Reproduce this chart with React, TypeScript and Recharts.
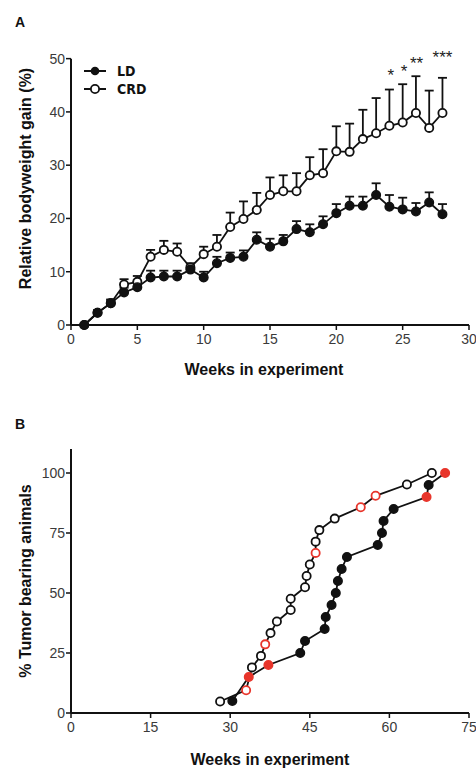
import React from "react";
import { ComposedChart, LineChart, Line, XAxis, YAxis, ErrorBar, Scatter, ReferenceLine, Legend } from "recharts";

// Panel A: relative bodyweight gain (%) by week
const weeks = [1, 2, 3, 4, 5, 6, 7, 8, 9, 10, 11, 12, 13, 14, 15, 16, 17, 18, 19, 20, 21, 22, 23, 24, 25, 26, 27, 28];
const ldGain = [0, 2.3, 4.1, 6.1, 7.1, 8.9, 9.1, 9.1, 10.4, 8.9, 11.6, 12.6, 12.8, 16.0, 14.7, 15.7, 18.0, 17.4, 18.9, 21.0, 22.4, 22.4, 24.4, 22.2, 21.7, 21.3, 23.0, 20.8];
const ldSem = [0, 0.5, 0.7, 0.9, 1.0, 1.3, 1.1, 1.1, 0.8, 1.1, 1.2, 1.0, 1.2, 1.4, 1.5, 1.2, 1.5, 1.5, 1.5, 1.7, 1.7, 1.7, 2.2, 2.2, 2.2, 1.6, 1.9, 1.9];
const crdGain = [0, 2.3, 4.1, 7.6, 8.1, 12.8, 14.1, 13.75, 10.8, 13.3, 14.7, 18.4, 19.9, 21.6, 24.4, 25.1, 25.1, 28.1, 28.5, 32.6, 32.5, 34.9, 36.0, 37.4, 38.0, 39.8, 37.0, 39.8];
const crdSem = [0, 0.4, 0.6, 1.0, 1.1, 1.3, 1.7, 1.55, 0.8, 1.4, 2.2, 2.7, 3.3, 3.2, 3.3, 3.0, 3.4, 3.4, 4.5, 4.7, 5.3, 5.5, 6.6, 6.8, 7.2, 6.9, 7.0, 6.6];
const starWeeks = [24.1, 25.1, 26.05, 28];
const starLevels = [47.6, 48.3, 49.8, 50.9];
const starMarks = ["*", "*", "**", "***"];

// Panel B: % tumor bearing animals
const crdOnsetWeeks = [28.1, 33.0, 34.1, 35.8, 36.6, 37.6, 38.8, 41.4, 41.4, 44.1, 44.4, 45.0, 46.1, 46.1, 46.8, 49.7, 54.6, 57.4, 63.3, 68.0];
const crdOnsetPct = [4.8, 9.5, 19.0, 23.8, 28.6, 33.3, 38.1, 42.9, 47.6, 52.4, 57.1, 61.9, 66.7, 71.4, 76.2, 81.0, 85.7, 90.5, 95.2, 100];
const crdOnsetRed = [false, true, false, false, true, false, false, false, false, false, false, false, true, false, false, false, true, true, false, false];
const ldOnsetWeeks = [30.4, 33.5, 37.2, 43.2, 44.1, 47.8, 48.0, 49.1, 49.9, 50.3, 51.0, 52.0, 57.8, 58.6, 58.9, 60.8, 67.0, 67.4, 70.5];
const ldOnsetPct = [5, 15, 20, 25, 30, 35, 40, 45, 50, 55, 60, 65, 70, 75, 80, 85, 90, 95, 100];
const ldOnsetRed = [false, true, true, false, false, false, false, false, false, false, false, false, false, false, false, false, true, false, true];

const FONT = "'Liberation Sans', Arial, sans-serif";
const NARROW = "'Liberation Sans Narrow', 'Arial Narrow', 'DejaVu Sans Condensed', sans-serif";
const INK = "#111";
const RED = "#e8352b";

const gainData = weeks.map((w, i) => ({ week: w, ld: ldGain[i], ldErr: [0, ldSem[i]], crd: crdGain[i], crdErr: [0, crdSem[i]] }));
const starData = starWeeks.map((w, i) => ({ week: w, level: starLevels[i], mark: starMarks[i] }));
const crdOnset = crdOnsetWeeks.map((w, i) => ({ week: w, pct: crdOnsetPct[i], red: crdOnsetRed[i] }));
const ldOnset = ldOnsetWeeks.map((w, i) => ({ week: w, pct: ldOnsetPct[i], red: ldOnsetRed[i] }));

const tickStyle = { fontSize: 14, fill: "#3a3a3a", fontFamily: FONT };
const titleStyle = { fontSize: 16, fontWeight: "bold", fill: INK, fontFamily: FONT };

const filledDot = (p: any) => (
  <circle key={`f${p.index}`} cx={p.cx} cy={p.cy} r={4.3} fill={p.payload.red ? RED : INK} stroke={p.payload.red ? RED : INK} strokeWidth={1.4} />
);
const openDot = (p: any) => (
  <circle key={`o${p.index}`} cx={p.cx} cy={p.cy} r={4.1} fill="#fff" stroke={p.payload.red ? RED : INK} strokeWidth={1.8} />
);

const starShape = (p: any) => (
  <text x={p.cx} y={p.cy + 9.5} textAnchor="middle" fontSize={17} fill="#222" fontFamily={FONT}>
    {p.payload.mark}
  </text>
);

function GainLegend() {
  return (
    <svg width={90} height={40}>
      <line x1={2} x2={24} y1={9} y2={9} stroke={INK} strokeWidth={2} />
      <circle cx={13} cy={9} r={4.3} fill={INK} />
      <text x={35} y={14} fontSize={14} fontWeight="bold" fill={INK} fontFamily={NARROW}>LD</text>
      <line x1={2} x2={24} y1={27} y2={27} stroke={INK} strokeWidth={2} />
      <circle cx={13} cy={27} r={4.1} fill="#fff" stroke={INK} strokeWidth={1.8} />
      <text x={35} y={32} fontSize={14} fontWeight="bold" fill={INK} fontFamily={NARROW}>CRD</text>
    </svg>
  );
}

const panelLetter = (top: number): React.CSSProperties => ({
  position: "absolute", left: 15, top, fontFamily: FONT, fontWeight: "bold", fontSize: 14, color: INK,
});

export default function App() {
  return (
    <div style={{ position: "absolute", left: 0, top: 0, width: 476, height: 771, background: "#fff" }}>
      <div style={panelLetter(14)}>A</div>
      <div style={{ position: "absolute", left: 0, top: 0 }}>
        <ComposedChart width={476} height={385} data={gainData} margin={{ top: 32, right: 7, left: 11, bottom: 10 }}>
          <XAxis
            dataKey="week" type="number" domain={[0, 30]} ticks={[0, 5, 10, 15, 20, 25, 30]}
            height={50} tickSize={5} tickMargin={4} tick={tickStyle}
            axisLine={{ stroke: INK, strokeWidth: 2 }} tickLine={{ stroke: INK, strokeWidth: 1.5 }}
            label={{ value: "Weeks in experiment", position: "insideBottom", offset: 0, dx: -6, style: titleStyle }}
          />
          <YAxis
            type="number" domain={[0, 55]} ticks={[0, 10, 20, 30, 40, 50]} width={60}
            tickSize={5} tickMargin={1} tick={tickStyle} axisLine={false}
            tickLine={{ stroke: INK, strokeWidth: 1.5 }}
            label={{ value: "Relative bodyweight gain (%)", angle: -90, position: "insideLeft", offset: 14, style: { ...titleStyle, textAnchor: "middle" } }}
          />
          <ReferenceLine segment={[{ x: 0, y: 0 }, { x: 0, y: 50 }]} stroke={INK} strokeWidth={2} />
          <Legend content={<GainLegend />} layout="vertical" align="center" verticalAlign="middle"
            wrapperStyle={{ left: 82, top: 62, width: 90, height: 40 }} />
          <Line dataKey="crd" name="CRD" stroke={INK} strokeWidth={1.8} dot={openDot} activeDot={false} isAnimationActive={false}>
            <ErrorBar dataKey="crdErr" direction="y" width={4.5} stroke={INK} strokeWidth={1.8} />
          </Line>
          <Line dataKey="ld" name="LD" stroke={INK} strokeWidth={1.8} dot={filledDot} activeDot={false} isAnimationActive={false}>
            <ErrorBar dataKey="ldErr" direction="y" width={4.5} stroke={INK} strokeWidth={1.8} />
          </Line>
          <Scatter data={starData} dataKey="level" shape={starShape} isAnimationActive={false} legendType="none" />
        </ComposedChart>
      </div>

      <div style={panelLetter(416)}>B</div>
      <div style={{ position: "absolute", left: 0, top: 385 }}>
        <LineChart width={476} height={386} margin={{ top: 64, right: 7, left: 11, bottom: 6 }}>
          <XAxis
            dataKey="week" type="number" domain={[0, 75]} ticks={[0, 15, 30, 45, 60, 75]}
            height={52} tickSize={5} tickMargin={4} tick={tickStyle}
            axisLine={{ stroke: INK, strokeWidth: 2 }} tickLine={{ stroke: INK, strokeWidth: 1.5 }}
            label={{ value: "Weeks in experiment", position: "insideBottom", offset: 0, style: titleStyle }}
          />
          <YAxis
            type="number" domain={[0, 110]} ticks={[0, 25, 50, 75, 100]} width={60}
            tickSize={5} tickMargin={1} tick={tickStyle}
            axisLine={{ stroke: INK, strokeWidth: 2 }} tickLine={{ stroke: INK, strokeWidth: 1.5 }}
            label={{ value: "% Tumor bearing animals", angle: -90, position: "insideLeft", offset: 14, style: { ...titleStyle, textAnchor: "middle" } }}
          />
          <Line data={crdOnset} dataKey="pct" name="CRD" stroke={INK} strokeWidth={1.8} dot={openDot} activeDot={false} isAnimationActive={false} />
          <Line data={ldOnset} dataKey="pct" name="LD" stroke={INK} strokeWidth={1.8} dot={filledDot} activeDot={false} isAnimationActive={false} />
        </LineChart>
      </div>
    </div>
  );
}
